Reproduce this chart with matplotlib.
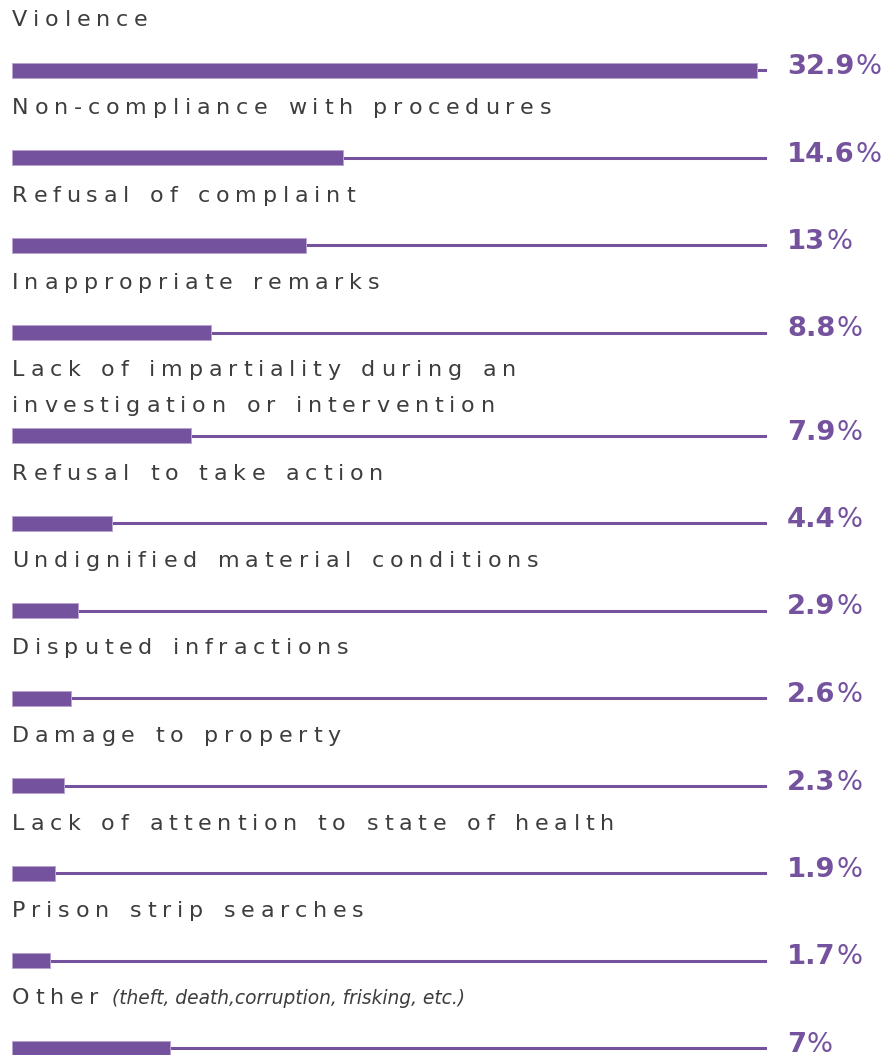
import matplotlib
matplotlib.use("Agg")
import matplotlib.pyplot as plt
from matplotlib.font_manager import FontProperties, findfont, get_font

# Complaint categories and their share of all complaints (%)
categories = [
    "Violence",
    "Non-compliance with procedures",
    "Refusal of complaint",
    "Inappropriate remarks",
    "Lack of impartiality during an\ninvestigation or intervention",
    "Refusal to take action",
    "Undignified material conditions",
    "Disputed infractions",
    "Damage to property",
    "Lack of attention to state of health",
    "Prison strip searches",
    "Other",
]
shares = [32.9, 14.6, 13, 8.8, 7.9, 4.4, 2.9, 2.6, 2.3, 1.9, 1.7, 7]
value_labels = ["32.9", "14.6", "13", "8.8", "7.9", "4.4", "2.9", "2.6", "2.3", "1.9", "1.7", "7"]
notes = {"Other": "(theft, death,corruption, frisking, etc.)"}

PURPLE = "#74529e"
EDGE = "#b7a3cf"
GREY = "#3d3d3d"
DPI = 100
W, H = 890, 1055

fig = plt.figure(figsize=(W / DPI, H / DPI), dpi=DPI)
fig.patch.set_facecolor("white")

# Axes spans the bar track horizontally; vertical axis runs in pixel rows
left_px, right_px = 12, 767
ax = fig.add_axes([left_px / W, 0, (right_px - left_px) / W, 1])
track_max = 33.35
ax.set_xlim(0, track_max)
ax.set_ylim(H, 0)
ax.axis("off")

label_size = 16.0          # pt
label_track = 5.8          # px between letters
space_extra = 2.0          # px extra for word gaps
line_gap = 35              # px between label lines
row_step = 87.5
extra_line_step = 15.5

label_prop = FontProperties(family="DejaVu Sans", size=label_size)
ft = get_font(findfont(label_prop))
ft.set_size(label_size, DPI)


def advance(ch):
    glyph = ft.load_char(ord(ch))
    return glyph.linearHoriAdvance / 65536


def tracked_text(y, text):
    """Draw letter-spaced text starting at the left edge, baseline at y (px row)."""
    x = 0.0
    for ch in text:
        if ch != " ":
            ax.annotate(ch, xy=(0, y), xytext=(x, 0), textcoords="offset pixels",
                        fontproperties=label_prop, color=GREY,
                        ha="left", va="baseline", annotation_clip=False)
        x += advance(ch) + label_track + (space_extra if ch == " " else 0)
    return x


# Row positions: each bar sits one step below the previous, more for wrapped labels
bar_rows = []
y = 70.0
for i, cat in enumerate(categories):
    if i > 0:
        y += row_step + extra_line_step * cat.count("\n")
    bar_rows.append(y)

prev = bar_rows[0] - row_step
for cat, share, vlab, yb in zip(categories, shares, value_labels, bar_rows):
    # Label lines above the bar
    base = prev + 44
    end_x = 0
    for k, line in enumerate(cat.split("\n")):
        end_x = tracked_text(base + k * line_gap, line)
    if cat in notes:
        ax.annotate(notes[cat], xy=(0, base), xytext=(end_x + 8, 0),
                    textcoords="offset pixels", fontsize=13.4, fontstyle="italic",
                    family="DejaVu Sans", color=GREY, ha="left", va="baseline",
                    annotation_clip=False)
    prev = yb

    # Thin full-width track and thick value bar
    ax.plot([0, track_max], [yb, yb], color=PURPLE, lw=2.2, solid_capstyle="butt",
            zorder=2)
    ax.barh(yb, share, height=15, left=0, color=PURPLE, edgecolor=EDGE,
            linewidth=0.7, zorder=3)

    # Value label: bold number with a regular-weight percent sign
    num = ax.annotate(vlab, xy=(track_max, yb + 4), xytext=(20, 0),
                      textcoords="offset pixels", fontsize=19.7, fontweight="bold",
                      family="DejaVu Sans", color=PURPLE, ha="left", va="baseline",
                      annotation_clip=False)
    ax.annotate("%", xy=(1, 0), xycoords=num, xytext=(1, 0),
                textcoords="offset pixels", fontsize=19.7, family="DejaVu Sans",
                color=PURPLE, ha="left", va="bottom", annotation_clip=False)

fig.savefig("out.png", dpi=DPI, facecolor="white")
